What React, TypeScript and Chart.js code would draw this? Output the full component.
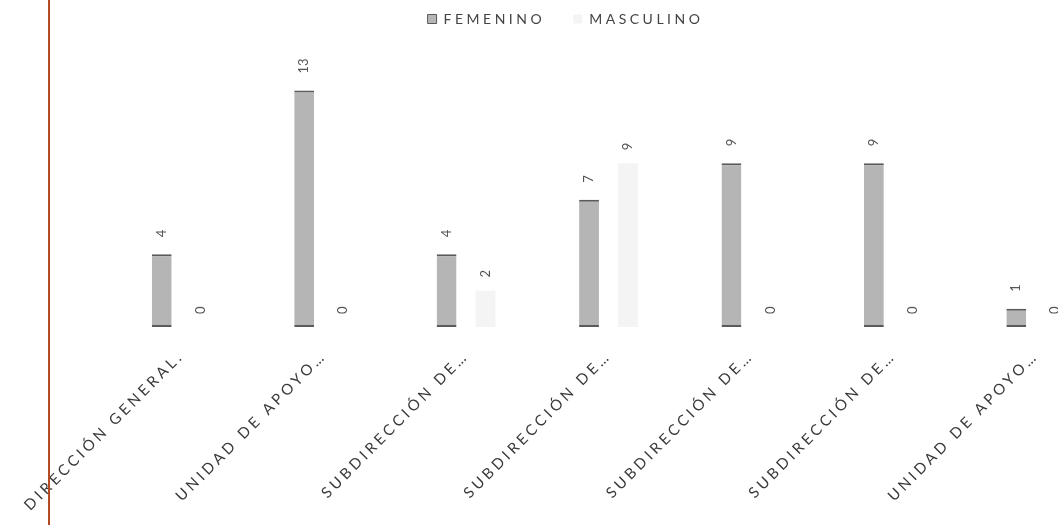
import React, { useEffect, useRef } from "react";
import { Chart, registerables } from "chart.js";

Chart.register(...registerables);

const categories = [
  "DIRECCIÓN GENERAL.",
  "UNIDAD DE APOYO…",
  "SUBDIRECCIÓN DE…",
  "SUBDIRECCIÓN DE…",
  "SUBDIRECCIÓN DE…",
  "SUBDIRECCIÓN DE…",
  "UNIDAD DE APOYO…",
];
const femenino = [4, 13, 4, 7, 9, 9, 1];
const masculino = [0, 0, 2, 9, 0, 0, 0];
const seriesNames = ["FEMENINO", "MASCULINO"];

const FONT = "Lato, 'Open Sans', sans-serif";
const SPACING = "3.5px";

const spacingPlugin = {
  id: "spacing",
  beforeLayout(chart: any) {
    chart.ctx.letterSpacing = SPACING;
  },
  afterLayout(chart: any) {
    const lg = chart.legend;
    if (lg) {
      lg.left -= 43;
      lg.right -= 43;
      lg.top -= 20;
      lg.bottom -= 20;
    }
  },
  beforeDraw(chart: any) {
    chart.ctx.letterSpacing = SPACING;
  },
  afterDraw(chart: any) {
    chart.ctx.letterSpacing = "0px";
  },
};

const valueLabels = {
  id: "valueLabels",
  afterDatasetsDraw(chart: any) {
    const ctx = chart.ctx;
    ctx.save();
    ctx.letterSpacing = "0px";
    ctx.font = `13px ${FONT}`;
    ctx.fillStyle = "#555555";
    ctx.textAlign = "left";
    ctx.textBaseline = "middle";
    chart.data.datasets.forEach((ds: any, di: number) => {
      const meta = chart.getDatasetMeta(di);
      const gap = di === 0 ? 17 : 13;
      meta.data.forEach((bar: any, i: number) => {
        const txt = String(ds.data[i]);
        ctx.save();
        ctx.translate(bar.x, bar.y - gap);
        ctx.rotate(-Math.PI / 2);
        ctx.fillText(txt, 0, 0);
        ctx.restore();
      });
    });
    ctx.restore();
  },
};

const marginLine = {
  id: "marginLine",
  afterDraw(chart: any) {
    const ctx = chart.ctx;
    ctx.save();
    ctx.strokeStyle = "#b24a22";
    ctx.lineWidth = 2;
    ctx.beginPath();
    ctx.moveTo(49, 0);
    ctx.lineTo(49, chart.height);
    ctx.stroke();
    ctx.restore();
  },
};

export default function App() {
  const ref = useRef<HTMLCanvasElement>(null);

  useEffect(() => {
    if (!ref.current) return;
    const chart = new Chart(ref.current, {
      type: "bar",
      data: {
        labels: categories,
        datasets: [
          {
            label: seriesNames[0],
            data: femenino,
            backgroundColor: "#b5b5b5",
            borderColor: "#5a5a5a",
            borderWidth: { top: 2, bottom: 2, left: 0, right: 0 },
            borderSkipped: false,
            categoryPercentage: 0.547,
            barPercentage: 0.51,
          },
          {
            label: seriesNames[1],
            data: masculino,
            backgroundColor: "#f4f4f4",
            borderWidth: 0,
            categoryPercentage: 0.547,
            barPercentage: 0.51,
          },
        ],
      },
      options: {
        responsive: false,
        animation: false,
        layout: { padding: { left: 110, right: 23, top: 4, bottom: 0 } },
        plugins: {
          legend: {
            display: true,
            position: "top",
            labels: {
              boxWidth: 9,
              boxHeight: 9,
              padding: 28,
              color: "#444444",
              font: { family: FONT, size: 14 },
            },
          },
          tooltip: { enabled: false },
        },
        scales: {
          x: {
            grid: { display: false, drawTicks: false },
            border: { display: false },
            ticks: {
              minRotation: 45,
              maxRotation: 45,
              autoSkip: false,
              padding: 20,
              color: "#3a3a3a",
              font: { family: FONT, size: 15 },
            },
            afterFit(scale: any) {
              scale.height = 198;
              scale.paddingLeft = 0;
              scale.paddingRight = 0;
            },
          },
          y: {
            display: false,
            min: 0,
            max: 14.9,
          },
        },
      },
      plugins: [spacingPlugin, valueLabels, marginLine],
    });
    return () => chart.destroy();
  }, []);

  return (
    <div
      style={{
        position: "absolute",
        left: 0,
        top: 0,
        width: 1058,
        height: 525,
        overflow: "hidden",
        background: "#ffffff",
      }}
    >
      <canvas ref={ref} width={1130} height={525} style={{ display: "block" }} />
    </div>
  );
}
